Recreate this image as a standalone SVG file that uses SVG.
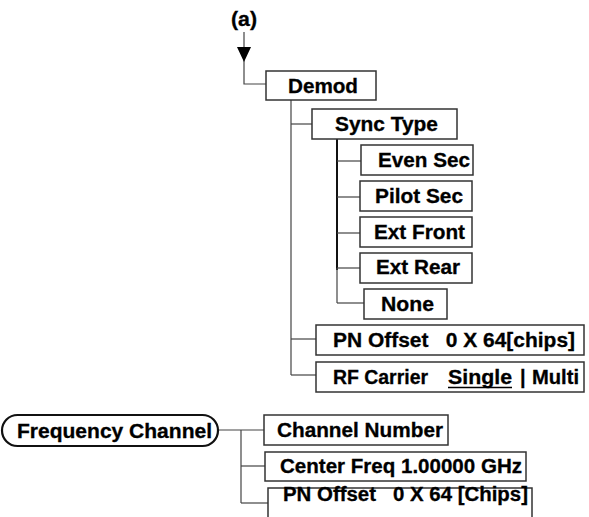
<svg xmlns="http://www.w3.org/2000/svg" width="589" height="517" viewBox="0 0 589 517">
<style>
.box{fill:#fff;stroke:#333;stroke-width:1.5}
.pill{fill:#fff;stroke:#111;stroke-width:2.2}
.ln{fill:none;stroke:#444;stroke-width:1.2}
.thick{fill:none;stroke:#111;stroke-width:2}
text{font-family:"Liberation Sans",Arial,Helvetica,sans-serif;font-weight:bold;font-size:20px;fill:#000;stroke:#000;stroke-width:0.3}
</style>
<rect width="589" height="517" fill="#fff"/>
<g id="connectors">
<polyline class="ln" points="244,32 244,84 266,84"/>
<polygon points="237,47 251,47 244,62" fill="#000"/>
<line class="ln" x1="291" y1="100" x2="291" y2="375"/>
<line class="ln" x1="291" y1="124" x2="312" y2="124"/>
<line class="ln" x1="291" y1="339" x2="316" y2="339"/>
<line class="ln" x1="291" y1="375" x2="316" y2="375"/>
<line class="thick" x1="337" y1="139" x2="337" y2="270"/>
<line class="ln" x1="337" y1="268" x2="337" y2="303"/>
<line class="ln" x1="337" y1="161" x2="361" y2="161"/>
<line class="ln" x1="337" y1="197" x2="360" y2="197"/>
<line class="ln" x1="337" y1="233" x2="360" y2="233"/>
<line class="ln" x1="337" y1="268" x2="360" y2="268"/>
<line class="ln" x1="337" y1="303" x2="364" y2="303"/>
<line class="ln" x1="218" y1="430" x2="264" y2="430"/>
<line class="ln" x1="241" y1="430" x2="241" y2="503"/>
<line class="ln" x1="241" y1="466" x2="265" y2="466"/>
<line class="ln" x1="241" y1="503" x2="268" y2="503"/>
</g>
<g id="label-a"><text x="231" y="26" textLength="26" lengthAdjust="spacingAndGlyphs">(a)</text></g>
<g id="demod"><rect class="box" x="266" y="71" width="110" height="29"/><text x="288" y="92.5" textLength="70" lengthAdjust="spacingAndGlyphs">Demod</text></g>
<g id="sync-type"><rect class="box" x="312" y="109" width="145" height="30"/><text x="335" y="130.5" textLength="103" lengthAdjust="spacingAndGlyphs">Sync Type</text></g>
<g id="even-sec"><rect class="box" x="361" y="145" width="112" height="30"/><text x="378" y="167" textLength="92" lengthAdjust="spacingAndGlyphs">Even Sec</text></g>
<g id="pilot-sec"><rect class="box" x="360" y="181" width="112" height="30"/><text x="375" y="203" textLength="88" lengthAdjust="spacingAndGlyphs">Pilot Sec</text></g>
<g id="ext-front"><rect class="box" x="360" y="217" width="112" height="30"/><text x="374" y="238.5" textLength="91" lengthAdjust="spacingAndGlyphs">Ext Front</text></g>
<g id="ext-rear"><rect class="box" x="360" y="253" width="112" height="30"/><text x="376" y="274" textLength="84" lengthAdjust="spacingAndGlyphs">Ext Rear</text></g>
<g id="none"><rect class="box" x="364" y="289" width="83" height="30"/><text x="381" y="311" textLength="53" lengthAdjust="spacingAndGlyphs">None</text></g>
<g id="pn-offset"><rect class="box" x="316" y="325" width="268" height="30"/><text x="333" y="347" xml:space="preserve" textLength="242" lengthAdjust="spacingAndGlyphs">PN Offset   0 X 64[chips]</text></g>
<g id="rf-carrier"><rect class="box" x="316" y="362" width="268" height="30"/>
<text x="333" y="383.5" textLength="95" lengthAdjust="spacingAndGlyphs">RF Carrier</text>
<text x="448" y="383.5" textLength="64" lengthAdjust="spacingAndGlyphs">Single</text>
<line x1="448" y1="387.5" x2="512" y2="387.5" stroke="#000" stroke-width="1.6"/>
<text x="520" y="383.5">|</text>
<text x="532" y="383.5" textLength="47" lengthAdjust="spacingAndGlyphs">Multi</text></g>
<g id="frequency-channel"><rect class="pill" x="2" y="415" width="216" height="31" rx="15.5" ry="15.5"/><text x="17" y="437.5" textLength="195" lengthAdjust="spacingAndGlyphs">Frequency Channel</text></g>
<g id="channel-number"><rect class="box" x="264" y="415" width="184" height="30"/><text x="277" y="436.5" textLength="166" lengthAdjust="spacingAndGlyphs">Channel Number</text></g>
<g id="center-freq"><rect class="box" x="265" y="452" width="261" height="29"/><text x="280" y="472.5" textLength="242" lengthAdjust="spacingAndGlyphs">Center Freq 1.00000 GHz</text></g>
<g id="pn-offset-2"><rect class="box" x="268" y="488" width="264" height="40"/><text x="283" y="500.5" xml:space="preserve" textLength="245" lengthAdjust="spacingAndGlyphs">PN Offset   0 X 64 [Chips]</text></g>
</svg>
